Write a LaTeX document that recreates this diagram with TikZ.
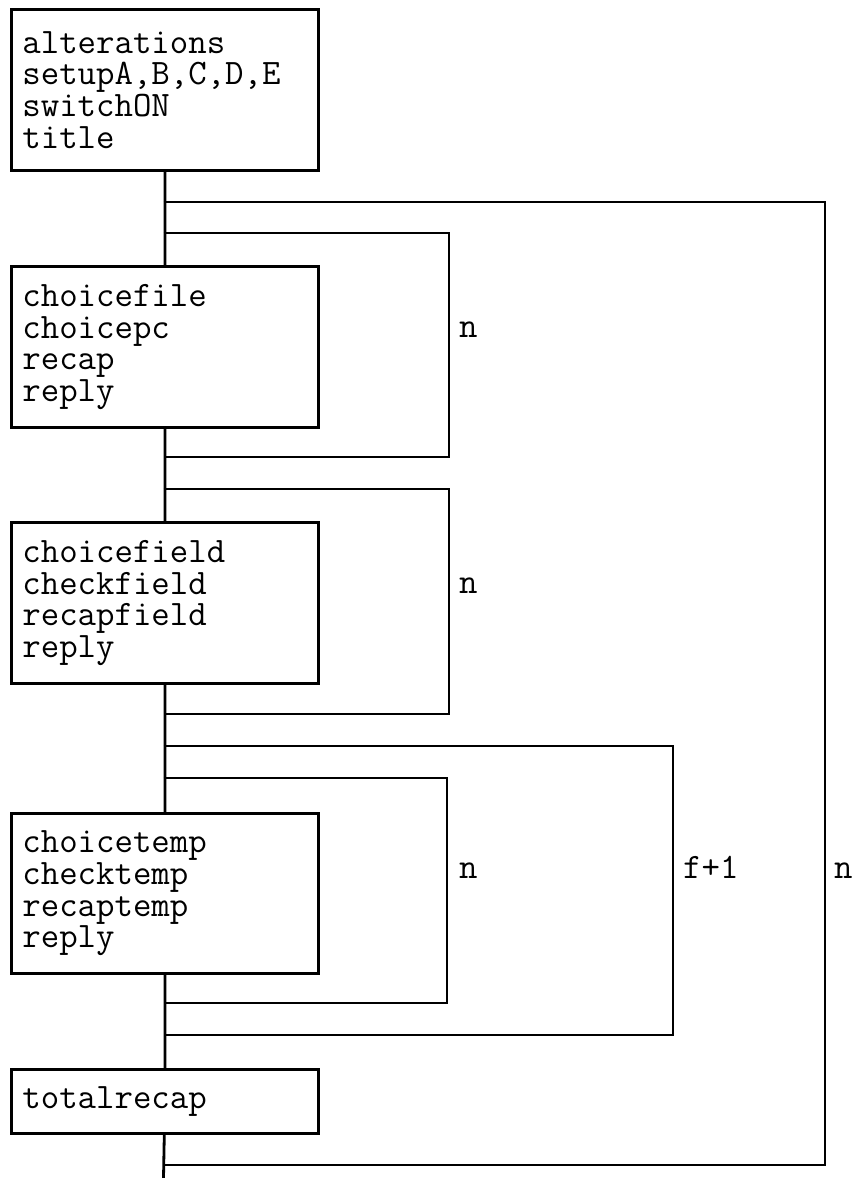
\documentclass[tikz,border=0pt]{standalone}
\usepackage{fontspec}
\usetikzlibrary{positioning}

\begin{document}
\begin{tikzpicture}[
  x=1pt, y=-1pt,
  font=\ttfamily\fontsize{35.8}{31.7}\selectfont,
  stage/.style={draw, line width=2.8pt, align=left, anchor=north west,
    text width=285pt, minimum width=307pt, inner xsep=11pt, inner ysep=4pt},
  wire/.style={line width=2.8pt},
  count/.style={anchor=base west, inner sep=0pt}
]
\useasboundingbox (0,0) rectangle (855,1178);

% program blocks
\node[stage, minimum height=161pt] (init) at (10,8)
  {alterations\\setupA,B,C,D,E\\switchON\\title};
\node[stage, minimum height=161pt] (file) at (10,265)
  {choicefile\\choicepc\\recap\\reply};
\node[stage, minimum height=161pt] (field) at (10,521)
  {choicefield\\checkfield\\recapfield\\reply};
\node[stage, minimum height=160pt] (temp) at (10,812)
  {choicetemp\\checktemp\\recaptemp\\reply};
\node[stage, minimum height=64pt] (total) at (10,1068) {totalrecap};

% loop entry and exit points on the spine
\coordinate (outerA) at (163.5,202);
\coordinate (fileA) at (163.5,233);
\coordinate (fileB) at (163.5,457);
\coordinate (fieldA) at (163.5,489);
\coordinate (fieldB) at (163.5,714);
\coordinate (recA) at (163.5,746);
\coordinate (tempA) at (163.5,778);
\coordinate (tempB) at (163.5,1003);
\coordinate (recB) at (163.5,1035);
\coordinate (outerB) at (163.5,1165);
\coordinate (stop) at (163.5,1178);

\draw[wire] (init) -- (file) -- (field) -- (temp) -- (total) -- (stop);

\draw[wire] (fileA) -- ++(285.5,0) |- (fileB);
\draw[wire] (fieldA) -- ++(285.5,0) |- (fieldB);
\draw[wire] (tempA) -- ++(283.5,0) |- (tempB);
\draw[wire] (recA) -- ++(509.5,0) |- (recB);
\draw[wire] (outerA) -- ++(661.5,0) |- (outerB);

\node[count] (nfile) at (459,337) {n};
\node[count] (nfield) at (459,593) {n};
\node[count] (ntemp) at (459,878) {n};
\node[count] (nrec) at (683,878) {f+1};
\node[count] (nouter) at (834,878) {n};

\end{tikzpicture}
\end{document}
